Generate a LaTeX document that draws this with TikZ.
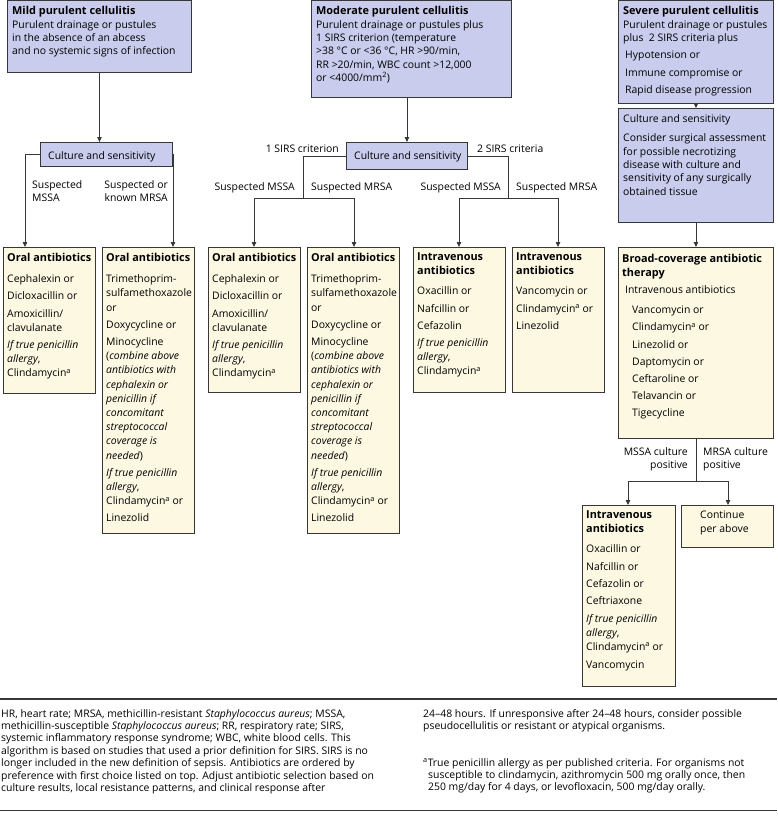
\documentclass[tikz,border=0pt]{standalone}
\usepackage{fontspec}
\setmainfont{Open Sans}
\usetikzlibrary{arrows.meta}
\definecolor{bluefill}{RGB}{201,204,237}
\definecolor{creamfill}{RGB}{252,248,226}
\definecolor{linec}{RGB}{55,55,55}
\newcommand{\lblock}[1]{\begin{tabular}[t]{@{}l@{}}#1\end{tabular}}
\newcommand{\rblock}[1]{\begin{tabular}[t]{@{}r@{}}#1\end{tabular}}
\newcommand{\sa}{\textsuperscript{a}}
\newcommand{\ttl}[1]{{\fontsize{10.9}{13}\selectfont\bfseries #1}}
\begin{document}
\begin{tikzpicture}[x=1pt,y=-1pt,
  bbox/.style={draw=linec, fill=bluefill, line width=0.9pt, anchor=north west, inner sep=0pt},
  cbox/.style={draw=linec, fill=creamfill, line width=0.9pt, anchor=north west, inner sep=0pt},
  toptxt/.style={anchor=base west, inner sep=0pt, font=\fontsize{10.4}{13.3}\selectfont},
  txt/.style={anchor=base west, inner sep=0pt, font=\fontsize{10.4}{14.2}\selectfont},
  lbl/.style={inner sep=0pt, font=\fontsize{10.4}{13.3}\selectfont},
  foot/.style={anchor=base west, inner sep=0pt, font=\fontsize{10.4}{12.4}\selectfont},
  conn/.style={draw=linec, line width=0.8pt},
  arr/.style={conn, -{Triangle[length=5pt,width=4.5pt]}},
  rulel/.style={draw=linec, line width=1.6pt}]
\useasboundingbox (0,0) rectangle (777,816);

% ---------- boxes ----------
\node[bbox, minimum width=184pt, minimum height=71pt] (mild) at (7,0.5) {};
\node[bbox, minimum width=200pt, minimum height=96pt] (mod) at (311,0.5) {};
\node[bbox, minimum width=155pt, minimum height=102pt] (sev) at (618,0.5) {};
\node[bbox, minimum width=132pt, minimum height=24pt] (cs1) at (40,142) {};
\node[bbox, minimum width=121pt, minimum height=27pt] (cs2) at (346,142) {};
\node[bbox, minimum width=155pt, minimum height=114pt] (cs3) at (618,108) {};
\node[cbox, minimum width=92pt, minimum height=146pt] (oral1) at (3,247) {};
\node[cbox, minimum width=92pt, minimum height=286pt] (oral2) at (102,247) {};
\node[cbox, minimum width=92pt, minimum height=145pt] (oral3) at (208,247) {};
\node[cbox, minimum width=92pt, minimum height=286pt] (oral4) at (307,247) {};
\node[cbox, minimum width=92pt, minimum height=145pt] (iv1) at (413,247) {};
\node[cbox, minimum width=92pt, minimum height=145pt] (iv2) at (512,247) {};
\node[cbox, minimum width=155pt, minimum height=191pt] (broad) at (618,247) {};
\node[cbox, minimum width=93pt, minimum height=181pt] (iv3) at (582,505) {};
\node[cbox, minimum width=92pt, minimum height=42pt] (cont) at (681,505) {};

% ---------- box texts ----------
\node[toptxt] (mildT) at (12,15) {\lblock{\ttl{Mild purulent cellulitis}\\Purulent drainage or pustules\\in the absence of an abcess\\and no systemic signs of infection}};
\node[toptxt] (modT) at (316,15) {\lblock{\ttl{Moderate purulent cellulitis}\\Purulent drainage or pustules plus\\1 SIRS criterion (temperature\\>38 °C or <36 °C, HR >90/min,\\RR >20/min, WBC count >12,000\\or <4000/mm\textsuperscript{2})}};
\node[toptxt] (sevT) at (623,15) {\lblock{\ttl{Severe purulent cellulitis}\\Purulent drainage or pustules\\plus\ \ 2 SIRS criteria plus\\[4pt]\hspace{2pt}Hypotension or\\[4pt]\hspace{2pt}Immune compromise or\\[4pt]\hspace{2pt}Rapid disease progression}};
\node[txt] (cs1T) at (48,159) {Culture and sensitivity};
\node[txt] (cs2T) at (354,159) {Culture and sensitivity};
\node[toptxt] (cs3T) at (623,122) {\lblock{Culture and sensitivity\\[6.5pt]Consider surgical assessment\\for possible necrotizing\\disease with culture and\\sensitivity of any surgically\\obtained tissue}};

\node[txt] (oral1T) at (7,261) {\lblock{\ttl{Oral antibiotics}\\[7.5pt]Cephalexin or\\[3pt]Dicloxacillin or\\[3pt]Amoxicillin/\\clavulanate\\[3pt]\textit{If true penicillin}\\\textit{allergy},\\Clindamycin\sa}};
\node[txt] (oral2T) at (106,261) {\lblock{\ttl{Oral antibiotics}\\[7.5pt]Trimethoprim-\\sulfamethoxazole\\or\\[3pt]Doxycycline or\\[3pt]Minocycline\\(\textit{combine above}\\\textit{antibiotics with}\\\textit{cephalexin or}\\\textit{penicillin if}\\\textit{concomitant}\\\textit{streptococcal}\\\textit{coverage is}\\\textit{needed})\\[3pt]\textit{If true penicillin}\\\textit{allergy},\\Clindamycin\sa{} or\\[3pt]Linezolid}};
\node[txt] (oral3T) at (212,261) {\lblock{\ttl{Oral antibiotics}\\[7.5pt]Cephalexin or\\[3pt]Dicloxacillin or\\[3pt]Amoxicillin/\\clavulanate\\[3pt]\textit{If true penicillin}\\\textit{allergy},\\Clindamycin\sa}};
\node[txt] (oral4T) at (311,261) {\lblock{\ttl{Oral antibiotics}\\[7.5pt]Trimethoprim-\\sulfamethoxazole\\or\\[3pt]Doxycycline or\\[3pt]Minocycline\\(\textit{combine above}\\\textit{antibiotics with}\\\textit{cephalexin or}\\\textit{penicillin if}\\\textit{concomitant}\\\textit{streptococcal}\\\textit{coverage is}\\\textit{needed})\\[3pt]\textit{If true penicillin}\\\textit{allergy},\\Clindamycin\sa{} or\\[3pt]Linezolid}};
\node[txt] (iv1T) at (417,260) {\lblock{\ttl{Intravenous}\\\ttl{antibiotics}\\[6.5pt]Oxacillin or\\[3pt]Nafcillin or\\[3pt]Cefazolin\\[3pt]\textit{If true penicillin}\\\textit{allergy},\\Clindamycin\sa}};
\node[txt] (iv2T) at (516,260) {\lblock{\ttl{Intravenous}\\\ttl{antibiotics}\\[6.5pt]Vancomycin or\\[3pt]Clindamycin\sa{} or\\[3pt]Linezolid}};
\node[txt] (broadT) at (622,262) {\lblock{\ttl{Broad-coverage antibiotic}\\\ttl{therapy}\\[3pt]\hspace{3pt}Intravenous antibiotics\\[6pt]\hspace{10pt}Vancomycin or\\[3pt]\hspace{10pt}Clindamycin\sa{} or\\[3pt]\hspace{10pt}Linezolid or\\[3pt]\hspace{10pt}Daptomycin or\\[3pt]\hspace{10pt}Ceftaroline or\\[3pt]\hspace{10pt}Telavancin or\\[3pt]\hspace{10pt}Tigecycline}};
\node[txt] (iv3T) at (586,518) {\lblock{\ttl{Intravenous}\\\ttl{antibiotics}\\[6.5pt]Oxacillin or\\[3pt]Nafcillin or\\[3pt]Cefazolin or\\[3pt]Ceftriaxone\\[3.5pt]\textit{If true penicillin}\\\textit{allergy},\\Clindamycin\sa{} or\\[3.5pt]Vancomycin}};
\node[txt] (contT) at (700,518) {\lblock{Continue\\per above}};

% ---------- connectors ----------
\draw[arr] (mild.south) -- (mild.south |- cs1.north);
\draw[arr] (cs1.west) -| ([xshift=22pt]oral1.north west);
\draw[arr] (cs1.east) -| ([xshift=71pt]oral2.north west);

\draw[arr] (cs2.north |- mod.south) -- (cs2.north);
\coordinate (j1) at (303,198);
\coordinate (j2) at (508,198);
\draw[conn] (cs2.west) -| (j1);
\draw[arr] (j1) -| ([xshift=46pt]oral3.north west);
\draw[arr] (j1) -| ([xshift=47pt]oral4.north west);
\draw[conn] (cs2.east) -| (j2);
\draw[arr] (j2) -| ([xshift=46pt]iv1.north west);
\draw[arr] (j2) -| ([xshift=46pt]iv2.north west);

\draw[arr] (sev.south) -- (sev.south |- cs3.north);
\draw[arr] (cs3.south) -- (broad.north);
\path (broad.south) ++(0,42) coordinate (j3);
\draw[conn] (broad.south) -- (j3);
\draw[arr] (j3) -| ([xshift=46pt]iv3.north west);
\draw[arr] (j3) -| ([xshift=47pt]cont.north west);

% ---------- labels ----------
\node[lbl, anchor=base west] (lb1) at (32,188) {\lblock{Suspected\\MSSA}};
\node[lbl, anchor=base east] (lb2) at (168,188) {\rblock{Suspected or\\known MRSA}};
\node[lbl, anchor=base east] (lb3) at (339,152) {1 SIRS criterion};
\node[lbl, anchor=base east] (lb4) at (295,190) {Suspected MSSA};
\node[lbl, anchor=base west] (lb5) at (311,190) {Suspected MRSA};
\node[lbl, anchor=base west] (lb6) at (477,152) {2 SIRS criteria};
\node[lbl, anchor=base east] (lb7) at (501,190) {Suspected MSSA};
\node[lbl, anchor=base west] (lb8) at (516,190) {Suspected MRSA};
\node[lbl, anchor=base east] (lb9) at (688,455) {\rblock{MSSA culture\\positive}};
\node[lbl, anchor=base west] (lb10) at (703,455) {\lblock{MRSA culture\\positive}};

% ---------- footer ----------
\draw[rulel] (0,699) -- (777,699);
\draw[rulel] (0,810.5) -- (777,810.5);
\node[foot] (footL) at (1,717) {\lblock{HR, heart rate; MRSA, methicillin-resistant \textit{Staphylococcus aureus}; MSSA,\\methicillin-susceptible \textit{Staphylococcus aureus}; RR, respiratory rate; SIRS,\\systemic inflammatory response syndrome; WBC, white blood cells. This\\algorithm is based on studies that used a prior definition for SIRS. SIRS is no\\longer included in the new definition of sepsis. Antibiotics are ordered by\\preference with first choice listed on top. Adjust antibiotic selection based on\\culture results, local resistance patterns, and clinical response after}};
\node[foot] (footR1) at (423,717) {\lblock{24–48 hours. If unresponsive after 24–48 hours, consider possible\\pseudocellulitis or resistant or atypical organisms.}};
\node[foot] (footR2) at (423,766) {\lblock{\textsuperscript{a}True penicillin allergy as per published criteria. For organisms not\\\hspace{5pt}susceptible to clindamycin, azithromycin 500 mg orally once, then\\\hspace{5pt}250 mg/day for 4 days, or levofloxacin, 500 mg/day orally.}};
\end{tikzpicture}
\end{document}
